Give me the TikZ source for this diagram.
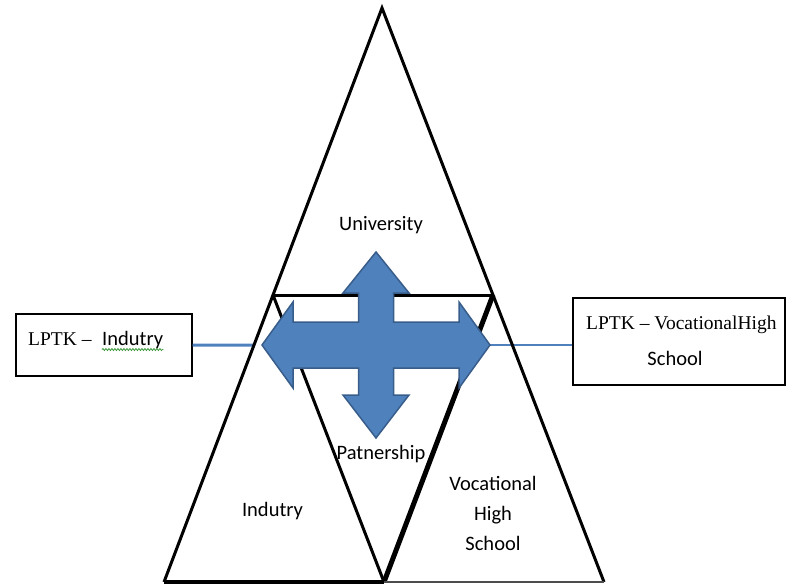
\documentclass[tikz,border=0pt]{standalone}
\usepackage{fontspec}
\setmainfont{Liberation Serif}
\newfontfamily\calfont{Carlito}
\usepackage{xcolor}
\usetikzlibrary{positioning,calc,decorations.pathmorphing}
\definecolor{crossblue}{HTML}{4F81BD}
\definecolor{crossedge}{HTML}{385D8A}
\definecolor{spellgreen}{HTML}{3C9A3C}

\begin{document}
\begin{tikzpicture}[x=1pt,y=-1pt,
  tri/.style={black,line width=3pt,line join=miter},
  lbl/.style={font=\calfont\fontsize{20.5}{24}\selectfont,inner sep=0pt},
  srf/.style={font=\fontsize{19.5}{23}\selectfont,inner sep=0pt},
  box/.style={draw=black,line width=1.4pt,fill=white,inner sep=0pt},
  link/.style={crossblue,line width=3pt}]
\useasboundingbox (0,0) rectangle (786,584);
% corners of the big triangle
\coordinate (apex) at (382,8);
\coordinate (bl) at (164,582);
\coordinate (br) at (604,582);
\coordinate (ml) at ($(apex)!0.5!(bl)$);
\coordinate (mr) at ($(apex)!0.5!(br)$);
\coordinate (mb) at ($(bl)!0.5!(br)$);
% centre and side tips of the cross
\coordinate (cross) at (376,345);
\coordinate (crossL) at ($(cross)+(-114,0)$);
\coordinate (crossR) at ($(cross)+(114,0)$);
% boxes
\node [box,minimum width=176pt,minimum height=62pt] (lbox) at (104,345) {};
\node [box,minimum width=212pt,minimum height=87pt] (rbox) at (679,341.5) {};
% blue links
\draw [link] (lbox.east) -- (intersection of apex--bl and lbox.east--cross);
\draw [link,line width=2pt] (crossR) -- (crossR -| rbox.west);
% triangles
\draw [tri] (bl) -- (apex) -- (br);
\draw [tri] (ml) -- (mr);
\draw [tri] (ml) -- (mb);
\draw [tri,line width=5pt] (mr) -- (mb);
\draw [tri,line width=4pt] (bl) -- (mb);
\draw [black!70,line width=2pt] (mb) -- (br);
% four-way arrow
\begin{scope}[shift={(cross)}]
\filldraw [fill=crossblue,draw=crossedge,line width=1.5pt,line join=miter]
  (0,-93) -- (33,-52) -- (17.5,-52) -- (17.5,-23) -- (83,-23) -- (83,-43)
  -- (114,0) -- (83,43) -- (83,23) -- (17.5,23) -- (17.5,50) -- (33,50)
  -- (0,93) -- (-33,50) -- (-17.5,50) -- (-17.5,23) -- (-83,23) -- (-83,43)
  -- (-114,0) -- (-83,-43) -- (-83,-23) -- (-17.5,-23) -- (-17.5,-52)
  -- (-33,-52) -- cycle;
\end{scope}
% labels
\node [lbl,anchor=base] (univ) at (381,230) {University};
\node [lbl,anchor=base] (partner) at (381,459) {Patnership};
\node [lbl,anchor=base] (indus) at (272.5,516) {Indutry};
\node [lbl,anchor=base] (voc1) at (493,490) {Vocational};
\node [lbl,anchor=base] (voc2) at (493,520) {High};
\node [lbl,anchor=base] (voc3) at (493,550) {School};
% box texts
\node [srf,anchor=base west] (lptkL) at (28,345) {LPTK --};
\node [lbl,anchor=base west] (indL) at (102,345) {Indutry};
\draw [spellgreen,line width=0.8pt,decorate,decoration={snake,amplitude=1pt,segment length=3pt}]
  ($(indL.base west)+(0,4.5)$) -- ($(indL.base east)+(0,4.5)$);
\node [srf,anchor=base west] (lptkR) at (586,329) {LPTK -- VocationalHigh};
\node [lbl,anchor=base] (schR) at (675,365) {School};
\end{tikzpicture}
\end{document}
